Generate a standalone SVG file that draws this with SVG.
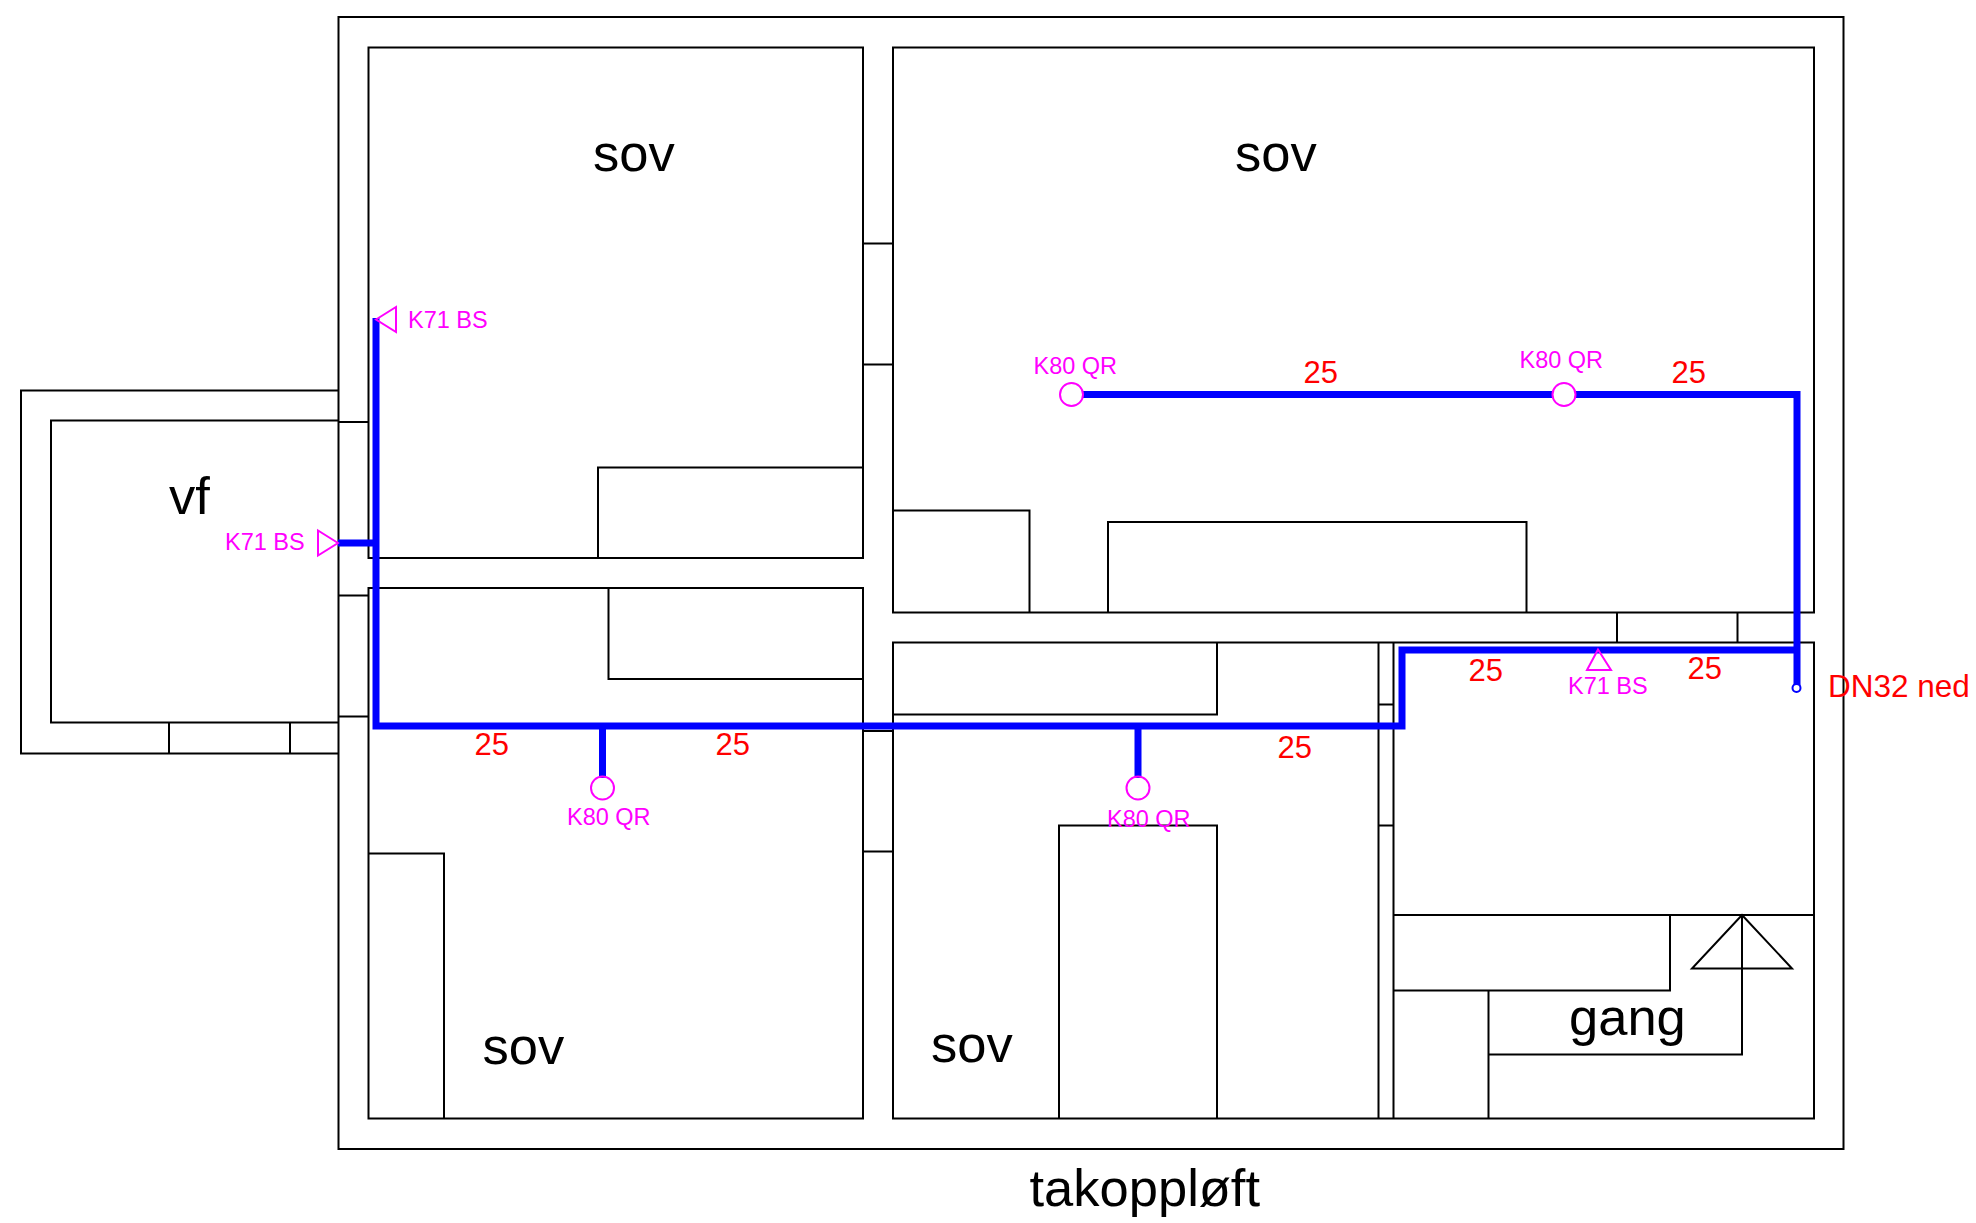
<svg xmlns="http://www.w3.org/2000/svg" width="1976" height="1223" viewBox="0 0 1976 1223">
<style>
text{font-family:"Liberation Sans",Arial,sans-serif}
.w{fill:none;stroke:#000;stroke-width:2}
.p{fill:none;stroke:#00f;stroke-width:7}
.m{fill:none;stroke:#f0f;stroke-width:2}
.big{font-size:52.500px;fill:#000}
.tag{font-size:23.500px;fill:#f0f}
.dim{font-size:31px;fill:#f00}
</style>
<rect width="1976" height="1223" fill="#fff"/>
<g id="walls" class="w">
<rect x="338.500" y="17" width="1505" height="1132"/>
<path d="M338.500 390.500H21V753.500H338.500M338.500 420.500H51V722.500H338.500M169 722.500V753.500M290 722.500V753.500"/>
<path d="M338.500 422H369M338.500 595.500H369M338.500 716.500H369"/>
<rect x="368.500" y="47.500" width="494.500" height="510.500"/>
<path d="M598 558V467.500H863"/>
<rect x="368.500" y="588" width="494.500" height="530.500"/>
<path d="M608.500 588V679H863M369 853.500H444V1118.500"/>
<path d="M863 243.500H893M863 364.500H893M863 731H893M863 851.500H893"/>
<rect x="893" y="47.500" width="921" height="565"/>
<path d="M893 510.500H1029.500V612.500M1108 612.500V522H1526.500V612.500"/>
<path d="M1617 612.500V642M1737.500 612.500V642"/>
<rect x="893" y="642.500" width="921" height="476"/>
<path d="M893 714.500H1217V642.500M1059 1118.500V825.500H1217V1118.500"/>
<path d="M1378.500 642.500V1118.500M1393.500 642.500V1118.500M1378.500 704.500H1393.500M1378.500 825.500H1393.500"/>
<path d="M1393.500 915H1814M1670 915V990.500H1393.500M1488.500 990.500V1118.500M1488.500 1054.500H1742V915M1742 915L1792 968.500H1692Z"/>
</g>
<g id="connectors">
<path class="p" d="M376 318V726H1402V650H1797"/>
<path class="p" d="M1083 394.500H1797V688"/>
<path class="p" d="M602.500 726V778M1138 726V778M338 543H379"/>
<circle cx="1796.500" cy="688" r="4" fill="#fff" stroke="#00f" stroke-width="2"/>
</g>
<g id="fittings">
<circle class="m" cx="1071.500" cy="394.500" r="11.500" style="fill:#fff"/>
<circle class="m" cx="1564" cy="394.500" r="11.500" style="fill:#fff"/>
<circle class="m" cx="602.500" cy="788" r="11.500"/>
<circle class="m" cx="1138" cy="788" r="11.500"/>
<path class="m" d="M376 319.500L396 307V332Z"/>
<path class="m" d="M338 543L318 530.500V555.500Z"/>
<path class="m" d="M1598 649.500L1611 670H1587Z"/>
</g>
<g id="labels">
<text class="big" x="593" y="171">sov</text>
<text class="big" x="1235" y="171">sov</text>
<text class="big" x="482.500" y="1064">sov</text>
<text class="big" x="931" y="1062">sov</text>
<text class="big" x="169" y="514">vf</text>
<text class="big" x="1569" y="1035">gang</text>
<text class="big" x="1029.500" y="1206">takoppløft</text>
<text class="tag" x="408" y="328">K71 BS</text>
<text class="tag" x="225" y="550">K71 BS</text>
<text class="tag" x="1568" y="694">K71 BS</text>
<text class="tag" x="1033.500" y="374">K80 QR</text>
<text class="tag" x="1519.500" y="368">K80 QR</text>
<text class="tag" x="567" y="825">K80 QR</text>
<text class="tag" x="1107" y="827">K80 QR</text>
<text class="dim" x="474.500" y="755">25</text>
<text class="dim" x="715.500" y="755">25</text>
<text class="dim" x="1277.500" y="758">25</text>
<text class="dim" x="1303.500" y="383">25</text>
<text class="dim" x="1671.500" y="383">25</text>
<text class="dim" x="1468.500" y="681">25</text>
<text class="dim" x="1687.500" y="679">25</text>
<text class="dim" x="1828" y="697" style="font-size:31.500px">DN32 ned</text>
</g>
</svg>
